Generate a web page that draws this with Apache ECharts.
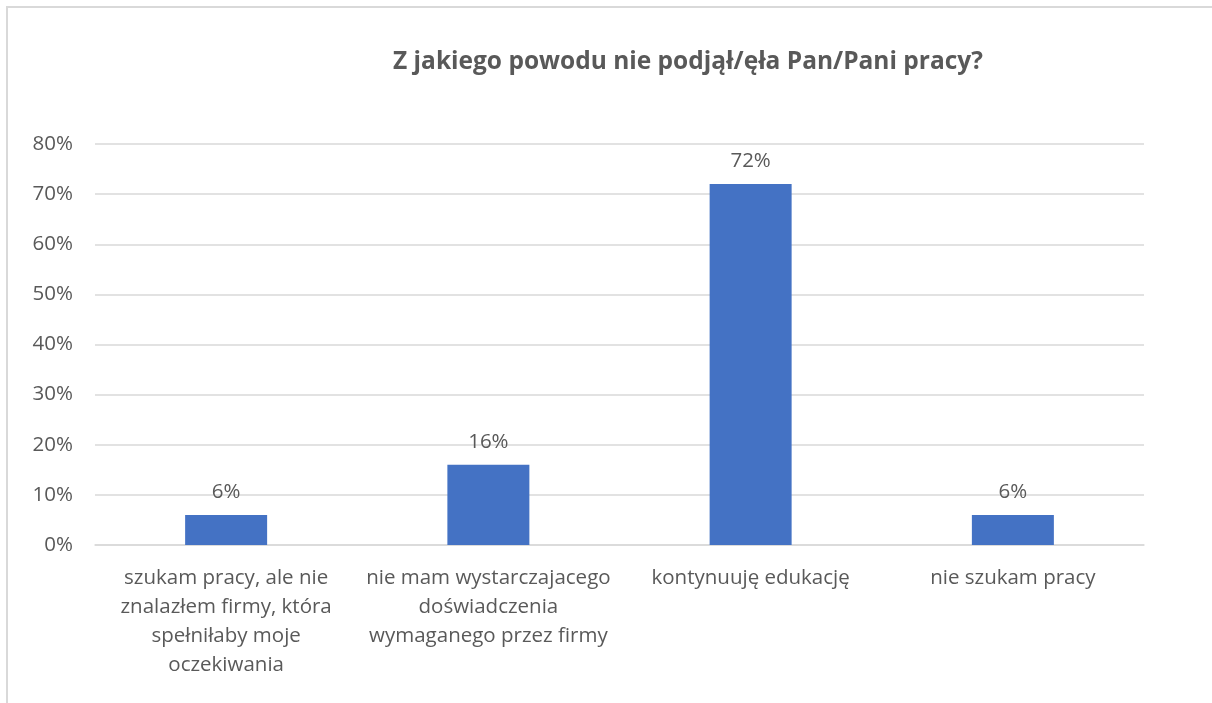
<!DOCTYPE html>
<html>
<head>
<meta charset="utf-8">
<script src="https://cdn.jsdelivr.net/npm/echarts@6/dist/echarts.min.js"></script>
<style>
  html, body { margin: 0; padding: 0; width: 1212px; height: 703px; overflow: hidden; background: #fff; }
  #frame { position: absolute; left: 6px; top: 6px; width: 1240px; height: 740px; border: 2px solid #d9d9d9; }
  #chart { position: absolute; left: 0; top: 0; width: 1212px; height: 703px; }
</style>
</head>
<body>
<div id="frame"></div>
<div id="chart"></div>
<script>
const titleText = "Z jakiego powodu nie podjął/ęła Pan/Pani pracy?";
const categories = [
  "szukam pracy, ale nie\nznalazłem firmy, która\nspełniłaby moje\noczekiwania",
  "nie mam wystarczajacego\ndoświadczenia\nwymaganego przez firmy",
  "kontynuuję edukację",
  "nie szukam pracy"
];
const shares = [6, 16, 72, 6];
const yTicks = [0, 10, 20, 30, 40, 50, 60, 70, 80];

const font = "'Open Sans', 'Liberation Sans', sans-serif";
const textColor = "#595959";

let chart = echarts.init(document.getElementById("chart"));
chart.setOption({
  animation: false,
  textStyle: { fontFamily: font },
  title: {
    text: titleText,
    left: 683,
    top: 45,
    textAlign: "center",
    textStyle: { fontFamily: font, fontSize: 24.5, fontWeight: "bold", color: textColor }
  },
  grid: { left: 95, right: 68, top: 144, bottom: 158, containLabel: false },
  xAxis: {
    type: "category",
    data: categories,
    axisTick: { show: false },
    axisLine: { lineStyle: { color: "#d9d9d9", width: 1.5 } },
    axisLabel: {
      interval: 0,
      margin: 19,
      color: textColor,
      fontSize: 20.5,
      lineHeight: 29,
      align: "center"
    }
  },
  yAxis: {
    type: "value",
    min: yTicks[0],
    max: yTicks[yTicks.length - 1],
    interval: 10,
    axisLine: { show: false },
    axisTick: { show: false },
    splitLine: { lineStyle: { color: "#d9d9d9", width: 1.5 } },
    axisLabel: {
      margin: 22,
      color: textColor,
      fontSize: 20.5,
      formatter: v => v + "%"
    }
  },
  series: [
    {
      type: "bar",
      data: shares,
      barWidth: 82,
      itemStyle: { color: "#4472c4" },
      label: {
        show: true,
        position: "top",
        distance: 12,
        color: textColor,
        fontSize: 20.5,
        formatter: p => p.value + "%"
      }
    }
  ]
});
</script>
</body>
</html>
